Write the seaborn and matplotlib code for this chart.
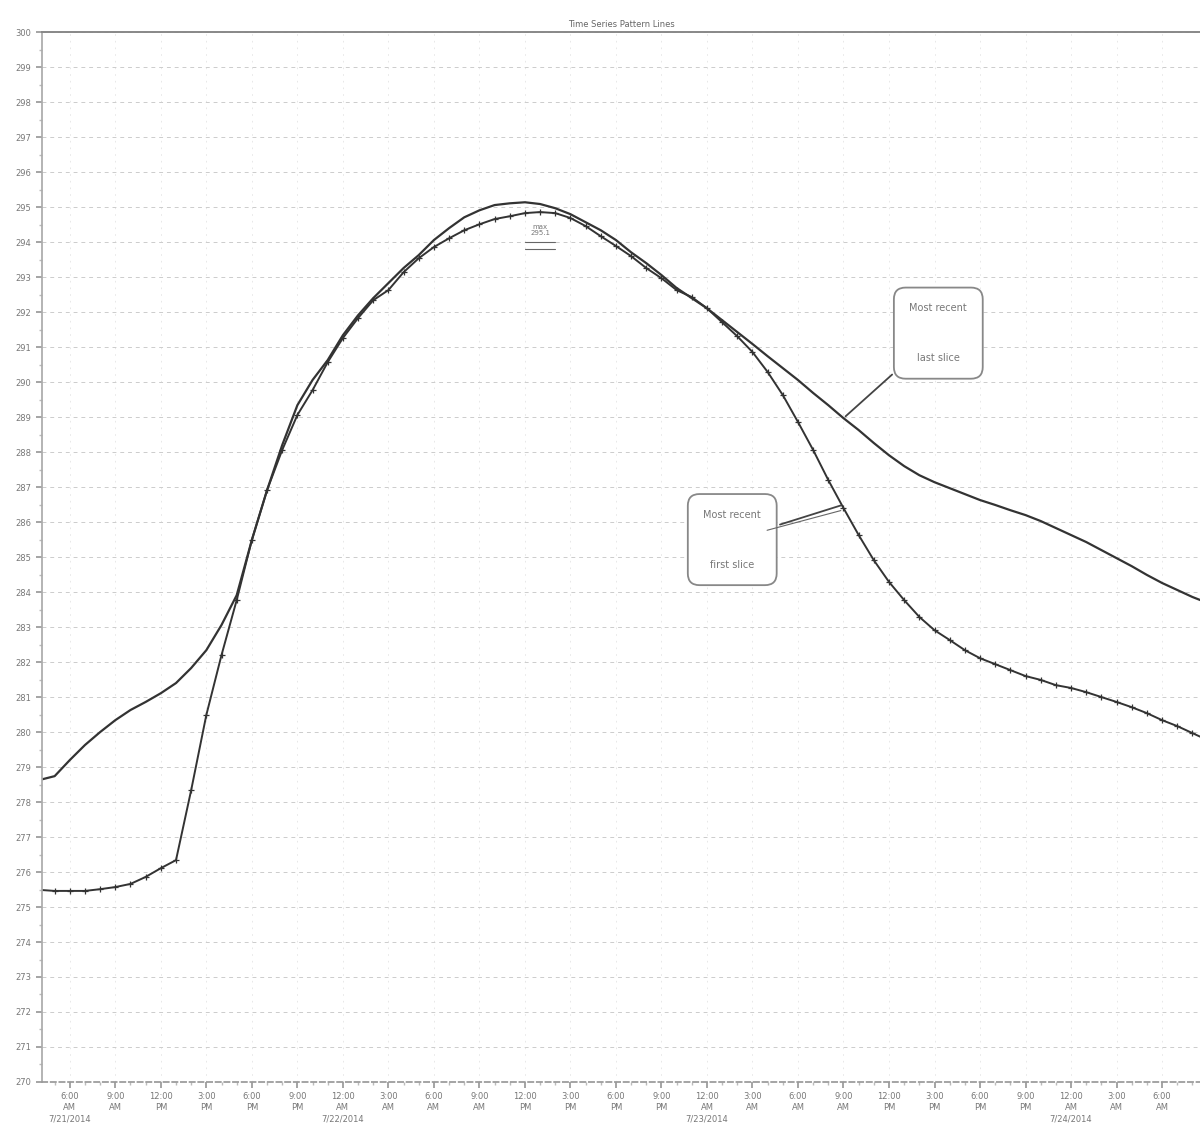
"""Time series pattern lines: two hourly series with callout labels."""

import matplotlib.pyplot as plt
import matplotlib.dates as mdates
import pandas as pd
import seaborn as sns

# hourly readings, starting 04:00 on the first day
start_time = "2014-07-21 04:00"

last_slice = [
    278.63, 278.74, 279.20, 279.63, 280.00, 280.34, 280.63, 280.86, 281.11, 281.40,
    281.83, 282.34, 283.06, 283.91, 285.49, 286.91, 288.20, 289.34, 290.06, 290.63,
    291.34, 291.91, 292.40, 292.83, 293.26, 293.63, 294.06, 294.40, 294.71, 294.91,
    295.06, 295.11, 295.14, 295.09, 294.97, 294.80, 294.57, 294.34, 294.06, 293.71,
    293.40, 293.06, 292.69, 292.40, 292.11, 291.77, 291.43, 291.09, 290.74, 290.40,
    290.06, 289.69, 289.34, 288.97, 288.63, 288.26, 287.91, 287.60, 287.34, 287.14,
    286.97, 286.80, 286.63, 286.49, 286.34, 286.20, 286.03, 285.83, 285.63, 285.43,
    285.20, 284.97, 284.74, 284.49, 284.26, 284.06, 283.86, 283.69,
]

first_slice = [
    275.49, 275.46, 275.46, 275.46, 275.51, 275.57, 275.66, 275.86, 276.11, 276.34,
    278.34, 280.49, 282.20, 283.77, 285.49, 286.91, 288.06, 289.06, 289.77, 290.57,
    291.26, 291.83, 292.34, 292.63, 293.14, 293.54, 293.86, 294.11, 294.34, 294.51,
    294.66, 294.74, 294.83, 294.86, 294.83, 294.69, 294.46, 294.17, 293.89, 293.60,
    293.26, 292.97, 292.63, 292.43, 292.11, 291.71, 291.31, 290.86, 290.29, 289.63,
    288.86, 288.06, 287.20, 286.40, 285.63, 284.91, 284.29, 283.77, 283.29, 282.91,
    282.63, 282.34, 282.11, 281.94, 281.77, 281.60, 281.49, 281.34, 281.26, 281.14,
    281.00, 280.86, 280.71, 280.54, 280.34, 280.17, 279.97, 279.77,
]

y_ticks = list(range(270, 301))
title = "Time Series Pattern Lines"
label_last = "Most recent\nlast slice"
label_first = "Most recent\nfirst slice"
first_tick = pd.Timestamp("2014-07-21 06:00")


def tick_label(ts: pd.Timestamp) -> str:
    text = ts.strftime("%I:%M").lstrip("0") + "\n" + ts.strftime("%p")
    if ts.hour == 0 or ts == first_tick:
        text += "\n" + f"{ts.month}/{ts.day}/{ts.year}"
    return text


times = pd.date_range(start_time, periods=len(last_slice), freq="h")
df = pd.DataFrame({"time": times, "last": last_slice, "first": first_slice})

sns.set_theme(style="white")
plt.rcParams["font.family"] = ["DejaVu Sans"]

fig = plt.figure(figsize=(12, 11.3), dpi=100)
ax = fig.add_axes([0.035, 0.0425, 0.965, 0.929])

sns.lineplot(data=df, x="time", y="last", ax=ax, color="#333333", linewidth=1.6)
sns.lineplot(data=df, x="time", y="first", ax=ax, color="#333333", linewidth=1.4,
             marker="+", markersize=5, markeredgewidth=0.9,
             markeredgecolor="#333333")

ax.set_xlim(pd.Timestamp("2014-07-21 04:10"), pd.Timestamp("2014-07-24 08:30"))
ax.set_ylim(y_ticks[0], y_ticks[-1])
ax.set_yticks(y_ticks)
ax.set_yticklabels([f"{v}" for v in y_ticks], fontsize=6, color="#777777")
ax.yaxis.set_minor_locator(plt.MultipleLocator(0.5))

xticks = pd.date_range(first_tick, periods=25, freq="3h")
ax.set_xticks(xticks)
ax.set_xticklabels([tick_label(t) for t in xticks], fontsize=6, color="#777777",
                   va="top", linespacing=1.3)
ax.xaxis.set_minor_locator(mdates.HourLocator())

ax.tick_params(axis="both", which="major", length=4, color="#999999", direction="out")
ax.tick_params(axis="both", which="minor", length=2, color="#bbbbbb", direction="out")
ax.tick_params(left=True, bottom=True, which="both")

ax.grid(axis="y", color="#cccccc", linestyle=(0, (4, 4)), linewidth=0.7)
ax.grid(axis="x", color="#e4e4e4", linestyle=(0, (2, 6)), linewidth=0.6)

ax.set_xlabel("")
ax.set_ylabel("")
ax.spines["right"].set_visible(False)
ax.spines["top"].set_color("#888888")
ax.spines["top"].set_linewidth(1.4)
ax.spines["left"].set_color("#aaaaaa")
ax.spines["bottom"].set_color("#999999")
ax.spines["bottom"].set_linestyle((0, (3, 2)))

ax.set_title(title, fontsize=6, color="#666666", pad=4)

box = dict(boxstyle="round,pad=1.6,rounding_size=1.2", fc="white", ec="#888888", lw=1.3)
ax.annotate(label_last, xy=(times[53], last_slice[53]),
            xytext=(pd.Timestamp("2014-07-23 15:15"), 291.4),
            fontsize=7, color="#777777", ha="center", va="center", bbox=box,
            linespacing=6.0,
            arrowprops=dict(arrowstyle="-", color="#444444", lw=1.3))
ax.annotate(label_first, xy=(times[53], first_slice[53] + 0.1),
            xytext=(pd.Timestamp("2014-07-23 01:40"), 285.5),
            fontsize=7, color="#777777", ha="center", va="center", bbox=box,
            linespacing=6.0,
            arrowprops=dict(arrowstyle="-", color="#444444", lw=1.3))
ax.annotate(label_first, xy=(times[53], first_slice[53] - 0.05),
            xytext=(pd.Timestamp("2014-07-23 01:40"), 285.5),
            fontsize=7, color=(0, 0, 0, 0), ha="center", va="center",
            linespacing=6.0,
            arrowprops=dict(arrowstyle="-", color="#666666", lw=0.8))

ax.text(times[33], 294.35, "max\n295.1", fontsize=5, color="#777777", ha="center",
        va="center", linespacing=1.1)
ax.plot([times[32], times[34]], [294.0, 294.0], color="#666666", lw=0.8)
ax.plot([times[32], times[34]], [293.8, 293.8], color="#666666", lw=0.8)

fig.savefig("out.png", dpi=100)
